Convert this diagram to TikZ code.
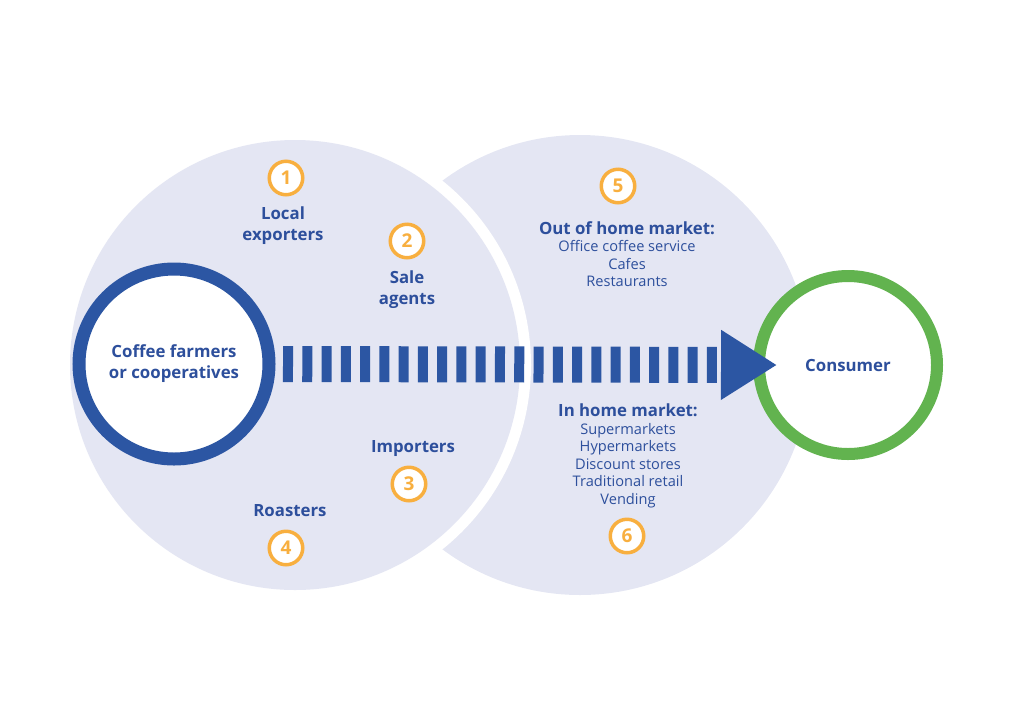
\documentclass[tikz,border=0pt]{standalone}
\usepackage{fontspec}
\setmainfont{Open Sans}
\usetikzlibrary{arrows.meta}
\definecolor{lightbg}{HTML}{E4E6F3}
\definecolor{cblue}{HTML}{2C56A3}
\definecolor{tblue}{HTML}{2D4F9C}
\definecolor{corange}{HTML}{F8AF3F}
\definecolor{cgreen}{HTML}{62B34F}
\tikzset{
  numcirc/.style={circle, draw=corange, line width=3.5pt, fill=white, minimum size=33.5pt, inner sep=0pt, text=corange, font=\fontsize{19}{19}\selectfont\bfseries},
  lbl/.style={text=tblue, align=center, font=\fontsize{16.8}{21}\selectfont\bfseries, inner sep=0pt},
  mkt/.style={text=tblue, align=center, font=\fontsize{14.6}{17.5}\selectfont, inner sep=0pt},
}
\begin{document}
\begin{tikzpicture}[x=1pt,y=-1pt]
\useasboundingbox (0,0) rectangle (1024,724);
% big background circles
\fill[lightbg] (580,365) circle[radius=230];
\fill[white] (295,365) circle[radius=236];
\fill[lightbg] (295,365) circle[radius=225];
% main nodes
\node[circle, draw=cblue, line width=13pt, fill=white, minimum size=190pt, inner sep=0pt, lbl] (farmers) at (174,364) {\raisebox{-2pt}{\begin{tabular}{@{}c@{}}Coffee farmers\\[0pt]or cooperatives\end{tabular}}};
\node[circle, draw=cgreen, line width=12pt, fill=white, minimum size=178pt, inner sep=0pt, lbl] (consumer) at (848,365) {Consumer};
% dashed arrow
\coordinate (s) at ([xshift=7.5pt]farmers.east);
\coordinate (e) at ([xshift=24pt]consumer.west);
\draw[cblue, line width=36pt, dash pattern=on 10pt off 9.27pt, -{Triangle[length=56pt,width=66pt]}] (s) -- (e);
% numbered circles
\node[numcirc] (n1) at (286,178) {1};
\node[numcirc] (n2) at (407,241) {2};
\node[numcirc] (n3) at (409,484) {3};
\node[numcirc] (n4) at (286,548) {4};
\node[numcirc] (n5) at (618,186) {5};
\node[numcirc] (n6) at (627,536) {6};
% labels
\node[lbl] (local) at (283,226) {Local\\exporters};
\node[lbl] (sale) at (407,290) {Sale\\agents};
\node[lbl] (imp) at (413,449) {Importers};
\node[lbl] (roast) at (290,511) {Roasters};
\node[mkt] (out) at (627,254) {{\fontsize{16.8}{17.5}\selectfont\bfseries Out of home market:}\\Office coffee service\\Cafes\\Restaurants};
\node[mkt] (in) at (628,456) {{\fontsize{16.8}{17.5}\selectfont\bfseries In home market:}\\Supermarkets\\Hypermarkets\\Discount stores\\Traditional retail\\Vending};
\end{tikzpicture}
\end{document}
